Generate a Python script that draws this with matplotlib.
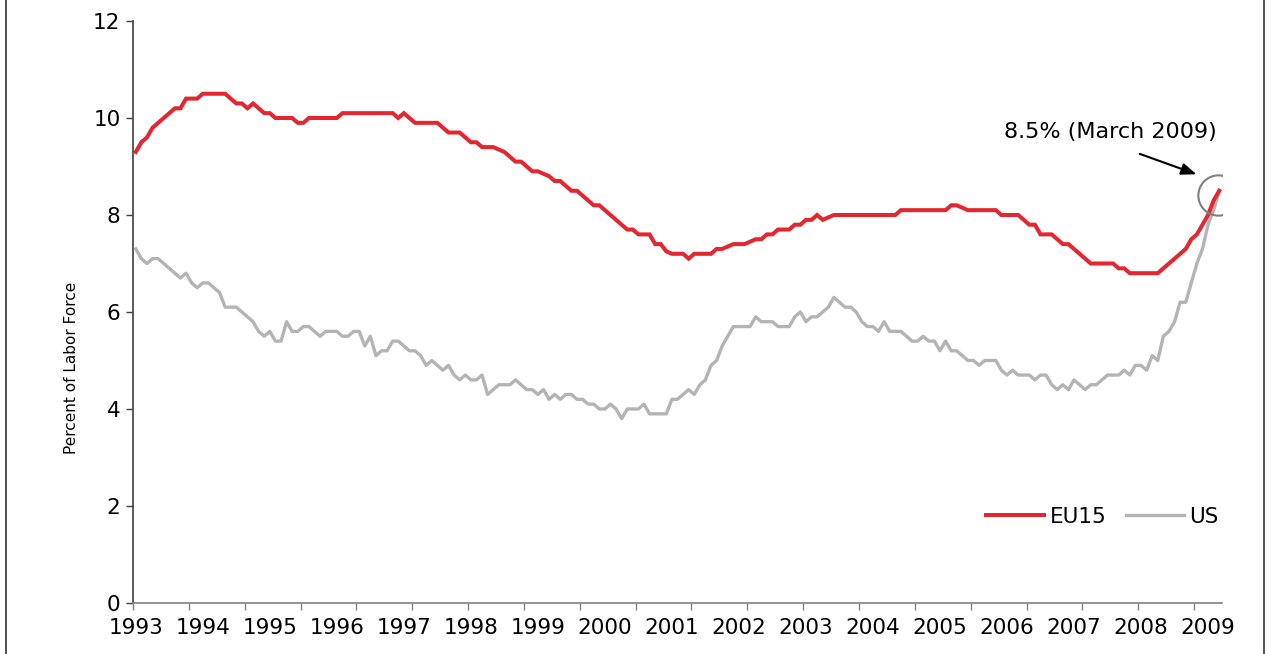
import numpy as np
import matplotlib
matplotlib.use("Agg")
import matplotlib.pyplot as plt
from matplotlib.lines import Line2D

# monthly unemployment rate, Jan 1993 - Mar 2009 (percent of labor force)
eu15 = [9.3, 9.5, 9.6, 9.8, 9.9, 10.0, 10.1, 10.2, 10.2, 10.4, 10.4, 10.4,
        10.5, 10.5, 10.5, 10.5, 10.5, 10.4, 10.3, 10.3, 10.2, 10.3, 10.2, 10.1,
        10.1, 10.0, 10.0, 10.0, 10.0, 9.9, 9.9, 10.0, 10.0, 10.0, 10.0, 10.0,
        10.0, 10.1, 10.1, 10.1, 10.1, 10.1, 10.1, 10.1, 10.1, 10.1, 10.1, 10.0,
        10.1, 10.0, 9.9, 9.9, 9.9, 9.9, 9.9, 9.8, 9.7, 9.7, 9.7, 9.6,
        9.5, 9.5, 9.4, 9.4, 9.4, 9.35, 9.3, 9.2, 9.1, 9.1, 9.0, 8.9,
        8.9, 8.85, 8.8, 8.7, 8.7, 8.6, 8.5, 8.5, 8.4, 8.3, 8.2, 8.2,
        8.1, 8.0, 7.9, 7.8, 7.7, 7.7, 7.6, 7.6, 7.6, 7.4, 7.4, 7.25,
        7.2, 7.2, 7.2, 7.1, 7.2, 7.2, 7.2, 7.2, 7.3, 7.3, 7.35, 7.4,
        7.4, 7.4, 7.45, 7.5, 7.5, 7.6, 7.6, 7.7, 7.7, 7.7, 7.8, 7.8,
        7.9, 7.9, 8.0, 7.9, 7.95, 8.0, 8.0, 8.0, 8.0, 8.0, 8.0, 8.0,
        8.0, 8.0, 8.0, 8.0, 8.0, 8.1, 8.1, 8.1, 8.1, 8.1, 8.1, 8.1,
        8.1, 8.1, 8.2, 8.2, 8.15, 8.1, 8.1, 8.1, 8.1, 8.1, 8.1, 8.0,
        8.0, 8.0, 8.0, 7.9, 7.8, 7.8, 7.6, 7.6, 7.6, 7.5, 7.4, 7.4,
        7.3, 7.2, 7.1, 7.0, 7.0, 7.0, 7.0, 7.0, 6.9, 6.9, 6.8, 6.8,
        6.8, 6.8, 6.8, 6.8, 6.9, 7.0, 7.1, 7.2, 7.3, 7.5, 7.6, 7.8,
        8.0, 8.3, 8.5]

us = [7.3, 7.1, 7.0, 7.1, 7.1, 7.0, 6.9, 6.8, 6.7, 6.8, 6.6, 6.5,
      6.6, 6.6, 6.5, 6.4, 6.1, 6.1, 6.1, 6.0, 5.9, 5.8, 5.6, 5.5,
      5.6, 5.4, 5.4, 5.8, 5.6, 5.6, 5.7, 5.7, 5.6, 5.5, 5.6, 5.6,
      5.6, 5.5, 5.5, 5.6, 5.6, 5.3, 5.5, 5.1, 5.2, 5.2, 5.4, 5.4,
      5.3, 5.2, 5.2, 5.1, 4.9, 5.0, 4.9, 4.8, 4.9, 4.7, 4.6, 4.7,
      4.6, 4.6, 4.7, 4.3, 4.4, 4.5, 4.5, 4.5, 4.6, 4.5, 4.4, 4.4,
      4.3, 4.4, 4.2, 4.3, 4.2, 4.3, 4.3, 4.2, 4.2, 4.1, 4.1, 4.0,
      4.0, 4.1, 4.0, 3.8, 4.0, 4.0, 4.0, 4.1, 3.9, 3.9, 3.9, 3.9,
      4.2, 4.2, 4.3, 4.4, 4.3, 4.5, 4.6, 4.9, 5.0, 5.3, 5.5, 5.7,
      5.7, 5.7, 5.7, 5.9, 5.8, 5.8, 5.8, 5.7, 5.7, 5.7, 5.9, 6.0,
      5.8, 5.9, 5.9, 6.0, 6.1, 6.3, 6.2, 6.1, 6.1, 6.0, 5.8, 5.7,
      5.7, 5.6, 5.8, 5.6, 5.6, 5.6, 5.5, 5.4, 5.4, 5.5, 5.4, 5.4,
      5.2, 5.4, 5.2, 5.2, 5.1, 5.0, 5.0, 4.9, 5.0, 5.0, 5.0, 4.8,
      4.7, 4.8, 4.7, 4.7, 4.7, 4.6, 4.7, 4.7, 4.5, 4.4, 4.5, 4.4,
      4.6, 4.5, 4.4, 4.5, 4.5, 4.6, 4.7, 4.7, 4.7, 4.8, 4.7, 4.9,
      4.9, 4.8, 5.1, 5.0, 5.5, 5.6, 5.8, 6.2, 6.2, 6.6, 7.0, 7.3,
      7.8, 8.1, 8.5]

years = list(range(1993, 2010))
y_ticks = [0, 2, 4, 6, 8, 10, 12]

red = "#E3262F"
grey = "#B4B4B4"

fig = plt.figure(figsize=(12.71, 6.54), dpi=100)
ax = fig.add_axes([133 / 1271, 1 - 603 / 654, (1222 - 133) / 1271, (603 - 21) / 654])

x = np.arange(len(eu15)) + 0.5
ax.plot(x, eu15, color=red, lw=2.9, label="EU15", solid_joinstyle="miter", zorder=3)
ax.plot(x, us, color=grey, lw=2.4, label="US", zorder=2)

ax.set_xlim(0, 195)
ax.set_ylim(0, 12)

# year labels sit on the month they start, tick marks every 10 months
ax.set_xticks([12 * k + 0.5 for k in range(len(years))])
ax.set_xticklabels([str(y) for y in years])
ax.set_xticks(np.arange(0, 195, 10), minor=True)
ax.tick_params(axis="x", which="major", length=0, pad=11, labelsize=15.5)
ax.tick_params(axis="x", which="minor", length=5, width=1, color="#808080", direction="out")

ax.set_yticks(y_ticks)
ax.set_yticklabels([str(v) for v in y_ticks])
ax.tick_params(axis="y", length=5, width=1, color="#404040", pad=4, labelsize=15.5)

for s in ["top", "right"]:
    ax.spines[s].set_visible(False)
ax.spines["left"].set_color("#404040")
ax.spines["bottom"].set_color("#808080")
ax.spines["left"].set_linewidth(1.2)
ax.spines["bottom"].set_linewidth(1.2)

ax.set_ylabel("Percent of Labor Force", fontsize=11)
ax.yaxis.set_label_coords(-0.0496, (603 - 368) / 582)

# March 2009 call-out
ax.plot(x[-1] - 0.2, 8.41, marker="o", ms=29, mfc="none", mec="#808080", mew=1.5, zorder=4)
ax.annotate("", xy=(190.9, 8.82), xytext=(179.8, 9.28),
            arrowprops=dict(arrowstyle="-|>,head_length=0.9,head_width=0.35", color="black", lw=1.5))
ax.text(175.1, 9.71, "8.5% (March 2009)", fontsize=16, ha="center", va="center")

ax.legend(loc="center", bbox_to_anchor=(0.89, 0.148), ncol=2, frameon=False,
          fontsize=15.5, handlelength=2.7, handletextpad=0.25, columnspacing=0.9)

# frame edges of the original picture
fig.add_artist(Line2D([6 / 1271, 6 / 1271], [0, 1], color="#333333", lw=1.2))
fig.add_artist(Line2D([1264 / 1271, 1264 / 1271], [0, 1], color="#333333", lw=1.2))

fig.savefig("out.png", dpi=100)
